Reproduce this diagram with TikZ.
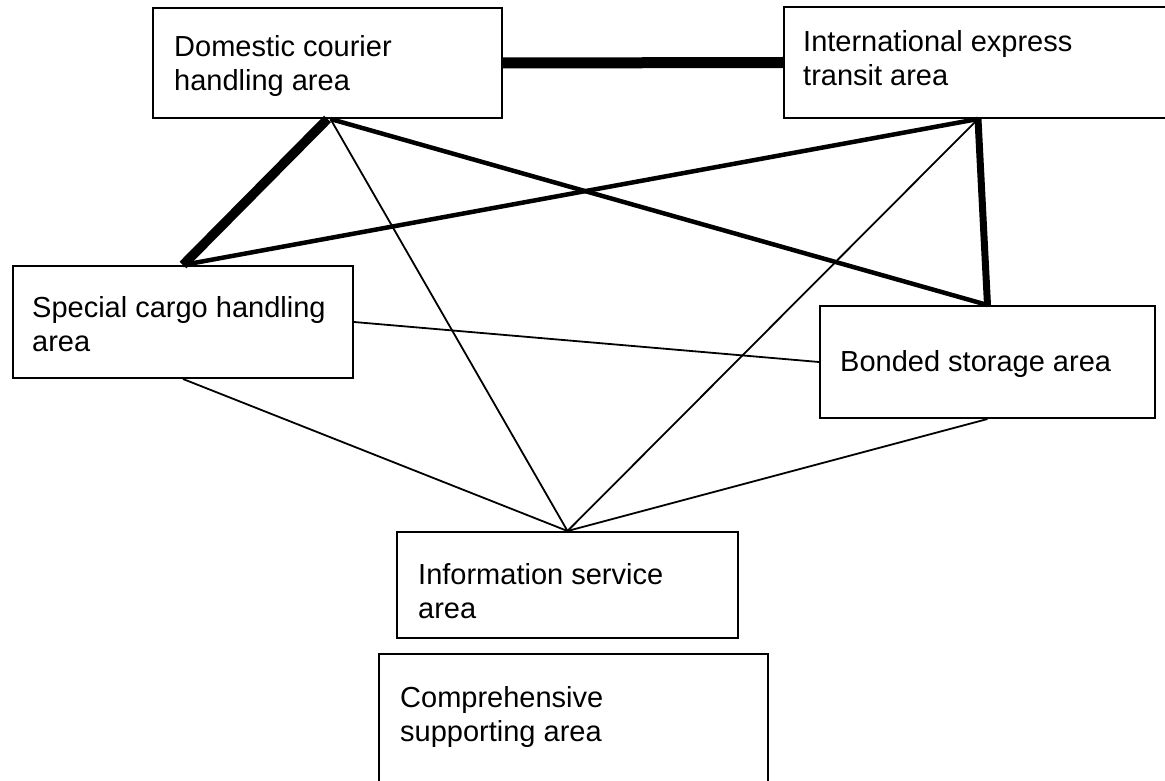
\documentclass[tikz,border=0pt]{standalone}
\usepackage{fontspec}
\setmainfont{Liberation Sans}
\usetikzlibrary{calc}
\begin{document}
\begin{tikzpicture}[x=1pt,y=-1pt,
  box/.style={draw, line width=2pt, rectangle, anchor=north west, inner sep=0pt},
  txt/.style={anchor=west, align=left, inner sep=0pt,
    font=\fontsize{29}{34}\selectfont},
  heavy/.style={line width=11pt},
  thick line/.style={line width=9.5pt},
  strong/.style={line width=7pt},
  medium/.style={line width=4.5pt},
  thin line/.style={line width=1.8pt}]
\useasboundingbox (0,0) rectangle (1165,781);
\clip (0,0) rectangle (1165,781);
% boxes
\node[box, minimum width=349pt, minimum height=110pt] (dom) at (152,7) {};
\node[box, minimum width=420pt, minimum height=111pt] (int) at (783,6) {};
\node[box, minimum width=340pt, minimum height=112pt] (spe) at (12,265) {};
\node[box, minimum width=335pt, minimum height=112pt] (bon) at (819,305) {};
\node[box, minimum width=341pt, minimum height=106pt] (inf) at (396,531) {};
\node[box, minimum width=389pt, minimum height=180pt] (com) at (378,653) {};
% texts
\node[txt] (domtext) at ($(dom.west)+(22,3)$) {Domestic courier\\handling area};
\node[txt] (inttext) at ($(int.west)+(20,-4)$) {International express\\transit area};
\node[txt] (spetext) at ($(spe.west)+(20,2)$) {Special cargo handling\\area};
\node[txt] (bontext) at ($(bon.west)+(21,2)$) {Bonded storage area};
\node[txt] (inftext) at ($(inf.west)+(22,6)$) {Information service\\area};
\node[txt] (comtext) at ($(com.north west)+(22,64)$) {Comprehensive\\supporting area};
% connection points
\coordinate (intb) at ($(int.south west)+(195,0)$);
\coordinate (domb) at ($(dom.south)+(3,0)$);
% connectors
\draw[heavy] (dom.east) -- (int.west);
\draw[thick line] (dom.south) -- (spe.north);
\draw[medium] (domb) -- (bon.north);
\draw[medium] (spe.north) -- (intb);
\draw[strong] (intb) -- (bon.north);
\draw[thin line] (domb) -- (inf.north);
\draw[thin line] (intb) -- (inf.north);
\draw[thin line] (spe.east) -- (bon.west);
\draw[thin line] (spe.south) -- (inf.north);
\draw[thin line] (bon.south) -- (inf.north);
\end{tikzpicture}
\end{document}
